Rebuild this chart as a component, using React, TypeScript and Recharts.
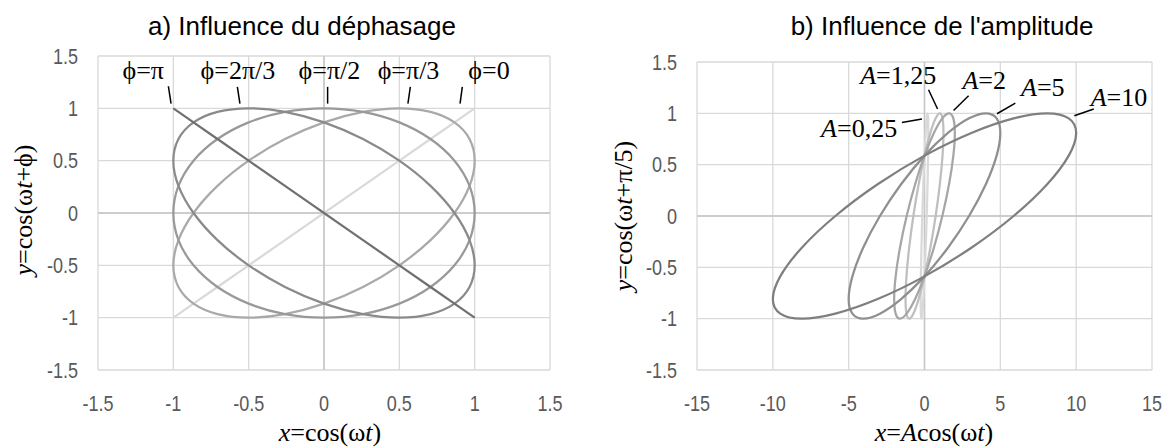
import {
  ScatterChart, Scatter, XAxis, YAxis, CartesianGrid,
  ReferenceLine, ReferenceDot,
} from 'recharts'

// a) x = cos(ωt), t de 0 à 360° par pas de 15°
const xCos = [1, 0.966, 0.866, 0.707, 0.5, 0.259, 0, -0.259, -0.5, -0.707, -0.866, -0.966, -1,
  -0.966, -0.866, -0.707, -0.5, -0.259, 0, 0.259, 0.5, 0.707, 0.866, 0.966, 1]
const yPhi0 = [1, 0.966, 0.866, 0.707, 0.5, 0.259, 0, -0.259, -0.5, -0.707, -0.866, -0.966, -1,
  -0.966, -0.866, -0.707, -0.5, -0.259, 0, 0.259, 0.5, 0.707, 0.866, 0.966, 1]
const yPhiPi3 = [0.5, 0.259, 0, -0.259, -0.5, -0.707, -0.866, -0.966, -1, -0.966, -0.866, -0.707, -0.5,
  -0.259, 0, 0.259, 0.5, 0.707, 0.866, 0.966, 1, 0.966, 0.866, 0.707, 0.5]
const yPhiPi2 = [0, -0.259, -0.5, -0.707, -0.866, -0.966, -1, -0.966, -0.866, -0.707, -0.5, -0.259, 0,
  0.259, 0.5, 0.707, 0.866, 0.966, 1, 0.966, 0.866, 0.707, 0.5, 0.259, 0]
const yPhi2Pi3 = [-0.5, -0.707, -0.866, -0.966, -1, -0.966, -0.866, -0.707, -0.5, -0.259, 0, 0.259, 0.5,
  0.707, 0.866, 0.966, 1, 0.966, 0.866, 0.707, 0.5, 0.259, 0, -0.259, -0.5]
const yPhiPi = [-1, -0.966, -0.866, -0.707, -0.5, -0.259, 0, 0.259, 0.5, 0.707, 0.866, 0.966, 1,
  0.966, 0.866, 0.707, 0.5, 0.259, 0, -0.259, -0.5, -0.707, -0.866, -0.966, -1]

// b) y = cos(ωt + π/5), t de 0 à 360° par pas de 18°
const yShift = [0.809, 0.588, 0.309, 0, -0.309, -0.588, -0.809, -0.951, -1, -0.951, -0.809,
  -0.588, -0.309, 0, 0.309, 0.588, 0.809, 0.951, 1, 0.951, 0.809]
const xA025 = [0.25, 0.238, 0.202, 0.147, 0.077, 0, -0.077, -0.147, -0.202, -0.238, -0.25,
  -0.238, -0.202, -0.147, -0.077, 0, 0.077, 0.147, 0.202, 0.238, 0.25]
const xA125 = [1.25, 1.189, 1.011, 0.735, 0.386, 0, -0.386, -0.735, -1.011, -1.189, -1.25,
  -1.189, -1.011, -0.735, -0.386, 0, 0.386, 0.735, 1.011, 1.189, 1.25]
const xA2 = [2, 1.902, 1.618, 1.176, 0.618, 0, -0.618, -1.176, -1.618, -1.902, -2,
  -1.902, -1.618, -1.176, -0.618, 0, 0.618, 1.176, 1.618, 1.902, 2]
const xA5 = [5, 4.755, 4.045, 2.939, 1.545, 0, -1.545, -2.939, -4.045, -4.755, -5,
  -4.755, -4.045, -2.939, -1.545, 0, 1.545, 2.939, 4.045, 4.755, 5]
const xA10 = [10, 9.511, 8.09, 5.878, 3.09, 0, -3.09, -5.878, -8.09, -9.511, -10,
  -9.511, -8.09, -5.878, -3.09, 0, 3.09, 5.878, 8.09, 9.511, 10]

const unitTicks = [-1.5, -1, -0.5, 0, 0.5, 1, 1.5]
const ampTicks = [-15, -10, -5, 0, 5, 10, 15]

// annotations: [texte, x texte, y texte, x1, y1, x2, y2] en coordonnées de données
const phaseNotes: [string, number, number, number, number, number, number][] = [
  ['ϕ=π', -1.2, 1.285, -1.033, 1.211, -1.015, 1.045],
  ['ϕ=2π/3', -0.571, 1.285, -0.575, 1.205, -0.558, 1.045],
  ['ϕ=π/2', 0.036, 1.285, 0.024, 1.205, 0.024, 1.045],
  ['ϕ=π/3', 0.561, 1.285, 0.573, 1.205, 0.557, 1.045],
  ['ϕ=0', 1.095, 1.285, 0.918, 1.205, 0.903, 1.045],
]
const ampNotes: [string, number, number, number, number, number, number][] = [
  ['=1,25', -1.73, 1.288, 0.267, 1.23, 0.861, 1.042],
  ['=2', 3.94, 1.237, 2.908, 1.171, 1.917, 1.028],
  ['=5', 7.8, 1.165, 5.99, 1.1, 4.78, 0.996],
  ['=10', 12.82, 1.067, 11.16, 1.042, 9.88, 0.976],
  ['=0,25', -4.31, 0.772, -1.49, 0.911, -0.168, 0.944],
]

const pts = (xs: number[], ys: number[]) => xs.map((x, i) => ({ x, y: ys[i] }))

const SERIF = "'Liberation Serif', 'Times New Roman', serif"
const SANS = "'Liberation Sans', Arial, sans-serif"

// courbe fermée (Catmull-Rom) pour des ellipses lisses sans cassure au point de départ
const closedCurve = (context: any) => {
  let p: [number, number][] = []
  return {
    areaStart() {},
    areaEnd() {},
    lineStart() { p = [] },
    point(x: number, y: number) { p.push([+x, +y]) },
    lineEnd() {
      if (p.length > 2) {
        const a = p[0], b = p[p.length - 1]
        if (Math.abs(a[0] - b[0]) < 0.01 && Math.abs(a[1] - b[1]) < 0.01) p.pop()
      }
      const n = p.length
      if (!n) return
      context.moveTo(p[0][0], p[0][1])
      for (let i = 0; i < n; i++) {
        const p0 = p[(i - 1 + n) % n], p1 = p[i], p2 = p[(i + 1) % n], p3 = p[(i + 2) % n]
        context.bezierCurveTo(
          p1[0] + (p2[0] - p0[0]) / 6, p1[1] + (p2[1] - p0[1]) / 6,
          p2[0] - (p3[0] - p1[0]) / 6, p2[1] - (p3[1] - p1[1]) / 6,
          p2[0], p2[1],
        )
      }
      context.closePath()
    },
  }
}

// étiquettes de graduation en police étroite
const NarrowTick = (props: any) => {
  const { x, y, payload, textAnchor, verticalAnchor } = props
  const dy = verticalAnchor === 'start' ? '0.71em' : '0.355em'
  return (
    <text transform={`translate(${x},${y}) scale(0.82,1)`} textAnchor={textAnchor} dy={dy}
      fontSize={22} fill="#595959" fontFamily={SANS}>
      {String(payload.value)}
    </text>
  )
}

const noDot = () => <g />

function textShape(content: React.ReactNode) {
  return (p: any) => (
    <text x={p.cx} y={p.cy} textAnchor="middle" fontFamily={SERIF} fontSize={26} fill="#000">
      {content}
    </text>
  )
}

function curve(xs: number[], ys: number[], color: string, key: string) {
  return (
    <Scatter
      key={key}
      data={pts(xs, ys)}
      fill={color}
      line={{ stroke: color, strokeWidth: 2.25 }}
      lineJointType={closedCurve as any}
      shape={noDot}
      isAnimationActive={false}
    />
  )
}

function PhaseChart() {
  return (
    <ScatterChart width={583} height={448} margin={{ top: 56, right: 33, left: 0, bottom: 0 }}>
      <CartesianGrid stroke="#d9d9d9" strokeWidth={1.3} />
      <XAxis type="number" dataKey="x" domain={[-1.5, 1.5]} ticks={unitTicks} height={78}
        axisLine={false} tickLine={false} tickSize={0} tickMargin={25} tick={<NarrowTick />} />
      <YAxis type="number" dataKey="y" domain={[-1.5, 1.5]} ticks={unitTicks} width={98}
        axisLine={false} tickLine={false} tickSize={0} tickMargin={20} tick={<NarrowTick />} />
      <ReferenceLine x={0} stroke="#c6c6c6" strokeWidth={1.5} />
      <ReferenceLine y={0} stroke="#c6c6c6" strokeWidth={1.5} />
      {curve(xCos, yPhi0, '#d9d9d9', 'p0')}
      {curve(xCos, yPhiPi3, '#a9a9a9', 'p1')}
      {curve(xCos, yPhiPi2, '#999999', 'p2')}
      {curve(xCos, yPhi2Pi3, '#8a8a8a', 'p3')}
      {curve(xCos, yPhiPi, '#707070', 'p4')}
      {phaseNotes.map(([t, tx, ty, x1, y1, x2, y2]) => [
        <ReferenceLine key={t + 'l'} segment={[{ x: x1, y: y1 }, { x: x2, y: y2 }]}
          stroke="#000" strokeWidth={1.5} ifOverflow="visible" />,
        <ReferenceDot key={t + 't'} x={tx} y={ty} r={0} ifOverflow="visible" shape={textShape(t)} />,
      ])}
    </ScatterChart>
  )
}

function AmplitudeChart() {
  return (
    <ScatterChart width={583} height={448} margin={{ top: 62, right: 14, left: 0, bottom: 0 }}>
      <CartesianGrid stroke="#d9d9d9" strokeWidth={1.3} />
      <XAxis type="number" dataKey="x" domain={[-15, 15]} ticks={ampTicks} height={78}
        axisLine={false} tickLine={false} tickSize={0} tickMargin={25} tick={<NarrowTick />} />
      <YAxis type="number" dataKey="y" domain={[-1.5, 1.5]} ticks={unitTicks} width={114}
        axisLine={false} tickLine={false} tickSize={0} tickMargin={20} tick={<NarrowTick />} />
      <ReferenceLine x={0} stroke="#c6c6c6" strokeWidth={1.5} />
      <ReferenceLine y={0} stroke="#c6c6c6" strokeWidth={1.5} />
      {curve(xA025, yShift, '#d9d9d9', 'a0')}
      {curve(xA125, yShift, '#bfbfbf', 'a1')}
      {curve(xA2, yShift, '#a6a6a6', 'a2')}
      {curve(xA5, yShift, '#8f8f8f', 'a3')}
      {curve(xA10, yShift, '#7f7f7f', 'a4')}
      {ampNotes.map(([t, tx, ty, x1, y1, x2, y2]) => [
        <ReferenceLine key={t + 'l'} segment={[{ x: x1, y: y1 }, { x: x2, y: y2 }]}
          stroke="#000" strokeWidth={1.5} ifOverflow="visible" />,
        <ReferenceDot key={t + 't'} x={tx} y={ty} r={0} ifOverflow="visible"
          shape={textShape(<><tspan fontStyle="italic">A</tspan>{t}</>)} />,
      ])}
    </ScatterChart>
  )
}

export default function App() {
  return (
    <div style={{ position: 'absolute', left: 0, top: 0, width: 1166, height: 448, background: '#fff' }}>
      <div style={{ position: 'absolute', left: 0, top: 0 }}><PhaseChart /></div>
      <div style={{ position: 'absolute', left: 583, top: 0 }}><AmplitudeChart /></div>
      <svg width={1166} height={448} style={{ position: 'absolute', left: 0, top: 0, pointerEvents: 'none' }}>
        <g fontFamily={SANS} fontSize={26} fill="#000" textAnchor="middle">
          <text x={302} y={35}>a) Influence du déphasage</text>
          <text x={942} y={35}>b) Influence de l'amplitude</text>
        </g>
        <g fontFamily={SERIF} fontSize={26} fill="#000" textAnchor="middle">
          <text x={330} y={441}>
            <tspan fontStyle="italic">x</tspan>=cos(ω<tspan fontStyle="italic">t</tspan>)
          </text>
          <text x={934} y={441}>
            <tspan fontStyle="italic">x</tspan>=<tspan fontStyle="italic">A</tspan>cos(ω<tspan fontStyle="italic">t</tspan>)
          </text>
          <text transform="translate(32,210) rotate(-90)">
            <tspan fontStyle="italic">y</tspan>=cos(ω<tspan fontStyle="italic">t</tspan>+ϕ)
          </text>
          <text transform="translate(632,216) rotate(-90)">
            <tspan fontStyle="italic">y</tspan>=cos(ω<tspan fontStyle="italic">t</tspan>+π/5)
          </text>
        </g>
      </svg>
    </div>
  )
}
